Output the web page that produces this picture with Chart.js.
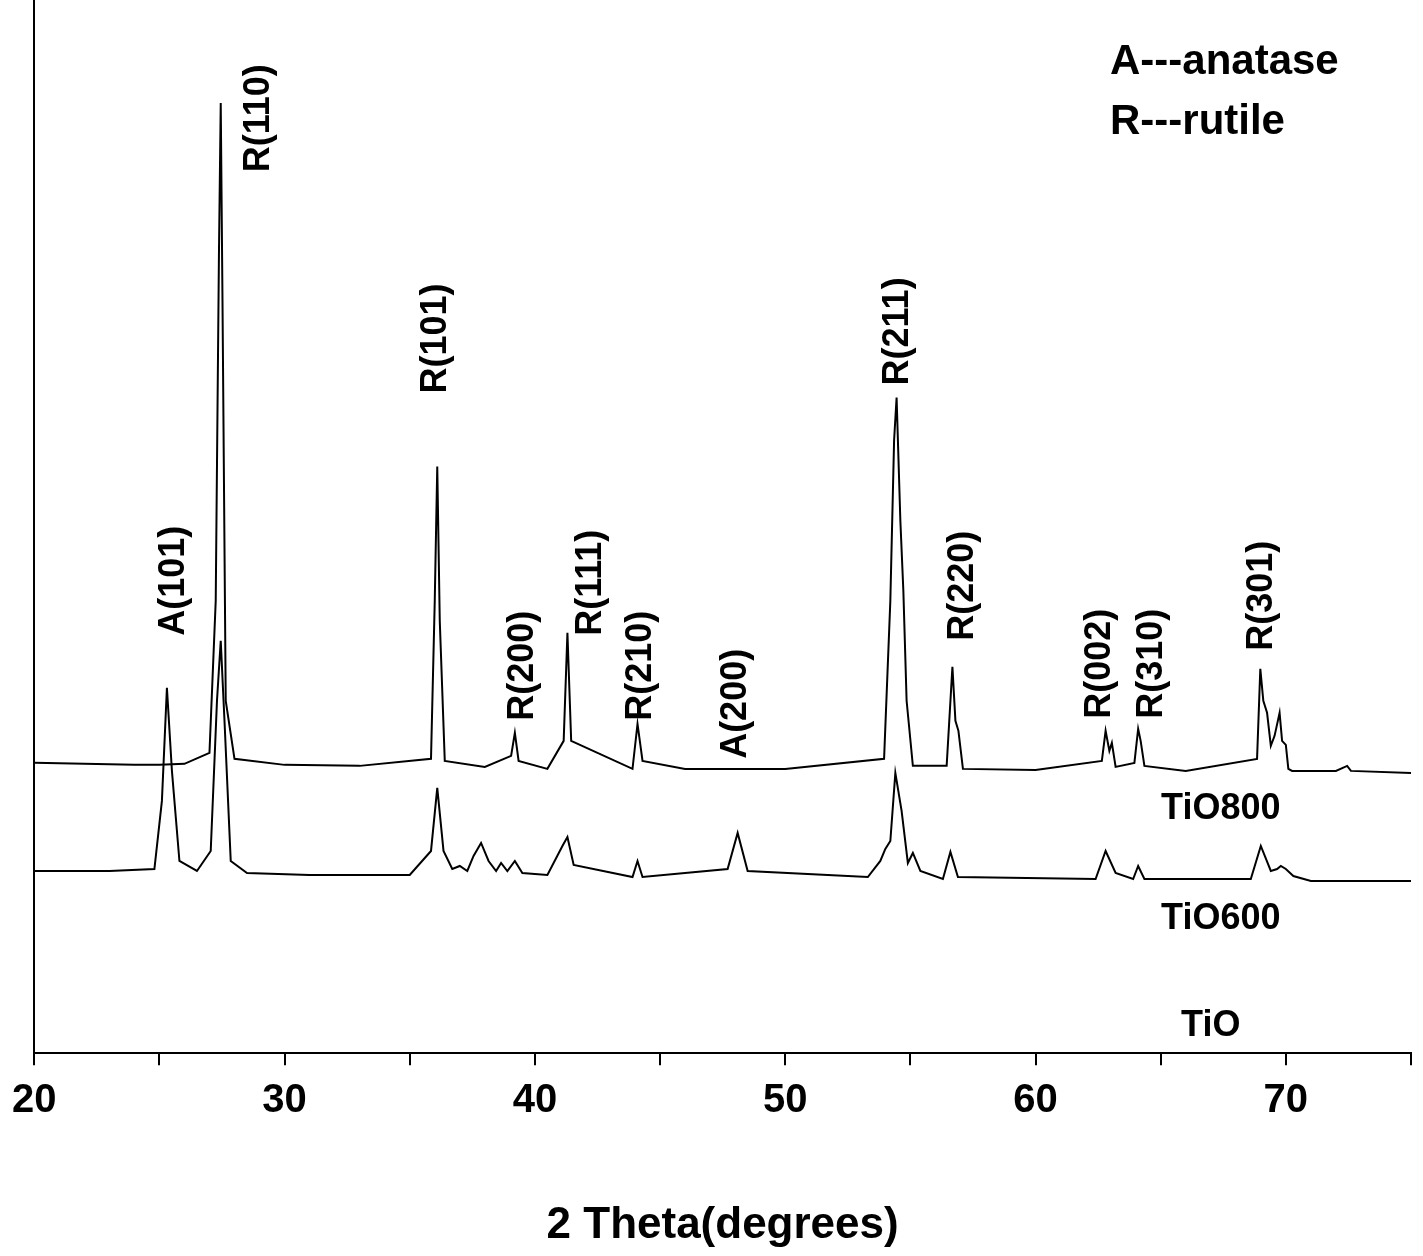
<!DOCTYPE html>
<html><head><meta charset="utf-8">
<script src="https://cdn.jsdelivr.net/npm/chart.js@4/dist/chart.umd.min.js"></script>
<style>html,body{margin:0;padding:0;background:#fff}#wrap{width:1423px;height:1256px}</style>
</head><body><div id="wrap"><canvas id="c" width="1423" height="1256"></canvas></div>
<script>
// 2 theta values and offset intensities (plot units, larger = lower on plot)
const tio800X = [20,22,24,25,26,27.0,27.25,27.38,27.45,27.52,27.65,28.0,30,33,35.85,36.0,36.1,36.2,36.4,38,39.05,39.2,39.35,40.5,41.15,41.3,41.45,43.9,44.1,44.3,46,50,53.95,54.2,54.35,54.45,54.6,54.72,54.85,55.1,56.45,56.68,56.8,56.92,57.1,60,62.65,62.8,62.95,63.05,63.2,63.95,64.1,64.2,64.35,66,68.85,68.98,69.1,69.25,69.4,69.55,69.75,69.85,70.0,70.1,70.25,72,72.45,72.6,75];
const tio800Y = [762,763,764,764,763,752,600,250,103,300,700,758,764,765,758,600,466,620,760,766,755,732,760,768,740,632,740,768,723,760,768,768,758,600,440,397,520,590,700,765,765,666,720,730,768,769,760,730,750,742,766,762,728,740,765,770,758,668,700,712,745,735,712,740,744,768,770,770,765,770,772];
const tio600X = [20,23,24.8,25.1,25.3,25.5,25.8,26.5,27.05,27.3,27.45,27.6,27.85,28.5,31,35,35.85,36.1,36.35,36.7,37.0,37.3,37.55,37.85,38.15,38.45,38.65,38.9,39.2,39.5,40.5,41.1,41.3,41.55,43.9,44.1,44.3,47.7,48.1,48.5,53.3,53.8,54.0,54.2,54.4,54.65,54.9,55.1,55.4,56.3,56.6,56.9,62.4,62.8,63.2,63.9,64.1,64.35,68.6,69.0,69.4,69.65,69.8,70.0,70.3,71,75];
const tio600Y = [870,870,868,800,687,770,860,870,850,700,640,720,860,872,874,874,850,787,850,868,865,870,855,842,860,870,862,870,860,872,874,845,836,864,876,860,876,868,832,870,876,860,848,840,772,810,862,852,870,878,851,876,878,850,872,878,865,878,878,845,870,868,865,868,875,880,880];
const peakLabels = ["A(101)","R(110)","R(101)","R(200)","R(111)","R(210)","A(200)","R(211)","R(220)","R(002)","R(310)","R(301)"];
const peakLabelX = [25.58,29.0,36.06,39.53,42.24,44.24,48.02,54.49,57.12,62.58,64.64,69.04];
const peakLabelY = [635,172,393,720,635,720,758,385,640,718,718,650];
const sampleNames = ["TiO800","TiO600","TiO"];
const sampleNameX = [67.4,67.4,67.0];
const sampleNameY = [808,918,1025];
const xTicks = [20,30,40,50,60,70];

const pts = (xs,ys)=>xs.map((x,i)=>({x,y:ys[i]}));
const font = 'bold 36px "Liberation Sans", Arial, sans-serif';
const annot = {
  id:'annot',
  afterDatasetsDraw(ch){
    const c=ch.ctx, xs=ch.scales.x, ys=ch.scales.y;
    c.save(); c.fillStyle='#000'; c.font=font;
    peakLabels.forEach((t,i)=>{
      c.save(); c.translate(xs.getPixelForValue(peakLabelX[i]), ys.getPixelForValue(peakLabelY[i]));
      c.rotate(-Math.PI/2); c.textAlign='left'; c.textBaseline='middle'; c.fillText(t,0,0); c.restore();
    });
    c.textAlign='center'; c.textBaseline='middle'; c.font='bold 36px "Liberation Sans", Arial, sans-serif';
    sampleNames.forEach((t,i)=>c.fillText(t, xs.getPixelForValue(sampleNameX[i]), ys.getPixelForValue(sampleNameY[i])));
    c.textAlign='left'; c.font='bold 42px "Liberation Sans", Arial, sans-serif';
    c.fillText('A---anatase',1110,62); c.fillText('R---rutile',1110,122);
    c.restore();
  }
};
new Chart(document.getElementById('c'),{
  type:'line',
  data:{datasets:[
    {data:pts(tio800X,tio800Y),borderColor:'#000',borderWidth:2,pointRadius:0,tension:0},
    {data:pts(tio600X,tio600Y),borderColor:'#000',borderWidth:2,pointRadius:0,tension:0}
  ]},
  options:{responsive:false,animation:false,
    layout:{padding:{left:0,right:0,top:0,bottom:0}},
    plugins:{legend:{display:false},tooltip:{enabled:false}},
    scales:{
      x:{type:'linear',min:20,max:75,
        grid:{display:true,drawOnChartArea:false,drawTicks:true,tickLength:12,color:'#000',lineWidth:2},
        border:{display:true,color:'#000',width:2},
        ticks:{stepSize:5,color:'#000',padding:12,font:{size:40,weight:'bold',family:'"Liberation Sans", Arial'},
          callback:v=>xTicks.includes(v)?String(v):''},
        title:{display:true,text:'2 Theta(degrees)',color:'#000',padding:{top:62,bottom:4},font:{size:44,weight:'bold',family:'"Liberation Sans", Arial'}}
      },
      y:{reverse:true,min:0,max:1052,
        grid:{display:false},border:{display:true,color:'#000',width:2},
        ticks:{display:false}}
    }
  },
  plugins:[annot]
});
</script></body></html>
